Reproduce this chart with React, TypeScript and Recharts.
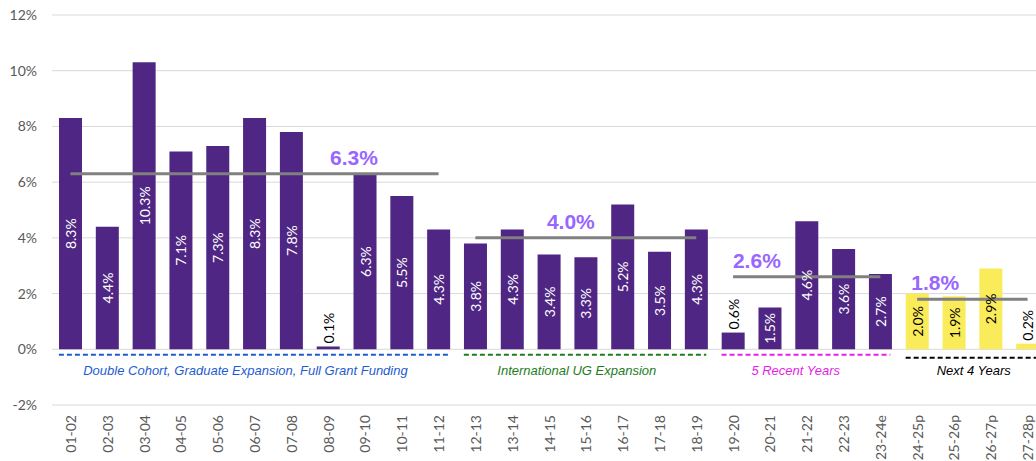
import React from "react"
import {
  Bar,
  CartesianGrid,
  Cell,
  ComposedChart,
  LabelList,
  ReferenceDot,
  ReferenceLine,
  XAxis,
  YAxis,
} from "recharts"

const periods = [
  "01-02", "02-03", "03-04", "04-05", "05-06", "06-07", "07-08", "08-09", "09-10",
  "10-11", "11-12", "12-13", "13-14", "14-15", "15-16", "16-17", "17-18", "18-19",
  "19-20", "20-21", "21-22", "22-23", "23-24e", "24-25p", "25-26p", "26-27p", "27-28p",
]

const growth = [
  8.3, 4.4, 10.3, 7.1, 7.3, 8.3, 7.8, 0.1, 6.3, 5.5, 4.3, 3.8, 4.3, 3.4, 3.3, 5.2, 3.5,
  4.3, 0.6, 1.5, 4.6, 3.6, 2.7, 2.0, 1.9, 2.9, 0.2,
]

// projected years start here
const firstProjected = 23

const yTicks = [-2, 0, 2, 4, 6, 8, 10, 12]

// period averages: value, first and last period
const averages = [
  { value: 6.3, from: "01-02", to: "11-12" },
  { value: 4.0, from: "12-13", to: "18-19" },
  { value: 2.6, from: "19-20", to: "23-24e" },
  { value: 1.8, from: "24-25p", to: "27-28p" },
]

const groups = [
  { name: "Double Cohort, Graduate Expansion, Full Grant Funding", from: "01-02", to: "11-12", color: "#1f5bd0" },
  { name: "International UG Expansion", from: "12-13", to: "18-19", color: "#1e7b1e" },
  { name: "5 Recent Years", from: "19-20", to: "23-24e", color: "#e61ee6" },
  { name: "Next 4 Years", from: "24-25p", to: "27-28p", color: "#000000" },
]

// where the annotation texts sit: anchor period + pixel nudge
const avgLabelPos = [
  { at: "09-10", dx: -11 },
  { at: "15-16", dx: -15 },
  { at: "20-21", dx: -13 },
  { at: "24-25p", dx: 18 },
]
const groupLabelPos = [
  { at: "06-07", dx: -9 },
  { at: "15-16", dx: -9 },
  { at: "21-22", dx: -11 },
  { at: "26-27p", dx: -17 },
]
const groupLineDy = [0, 0, 0, 3]

const rows = periods.map((period, i) => ({ period, value: growth[i] }))

const PURPLE = "#4f2683"
const YELLOW = "#faeb5a"
const FONT = "Lato, 'Noto Sans', sans-serif"
const ARIAL = "'Liberation Sans', Arial, sans-serif"

function BarLabel(props: any) {
  const { x, y, width, height, value, index } = props
  const cx = Number(x) + Number(width) / 2
  const txt = `${Number(value).toFixed(1)}%`
  if (value < 1) {
    const ty = Number(y) - 3
    return (
      <text x={cx} y={ty} transform={`rotate(-90 ${cx} ${ty})`} textAnchor="start"
        dominantBaseline="central" fill="#000" fontSize={14} fontFamily={FONT}>
        {txt}
      </text>
    )
  }
  const cy = Number(y) + Number(height) / 2
  return (
    <text x={cx} y={cy} transform={`rotate(-90 ${cx} ${cy})`} textAnchor="middle"
      dominantBaseline="central" fill={index >= firstProjected ? "#000" : "#fff"}
      fontSize={14} fontFamily={FONT}>
      {txt}
    </text>
  )
}

function XTick(props: any) {
  const { x, y, payload } = props
  return (
    <text x={x} y={y} transform={`rotate(-90 ${x} ${y})`} textAnchor="end"
      dominantBaseline="central" fill="#595959" fontSize={14} fontFamily={FONT}>
      {payload.value}
    </text>
  )
}

// dashed group underline, stretched from bar edge to bar edge
function DashedSpan(color: string, dy: number) {
  return (p: any) => (
    <line x1={p.x1 - 11.5} y1={p.y1 + dy} x2={p.x2 + 10} y2={p.y2 + dy} stroke={color}
      strokeWidth={2} strokeDasharray="5 3" />
  )
}

export default function App() {
  return (
    <div style={{ position: "absolute", left: 0, top: 0, width: 1036, height: 461, overflow: "hidden", background: "#fff" }}>
      <ComposedChart width={1046} height={461} data={rows} margin={{ top: 15, right: 0, bottom: 0, left: 0 }}>
        <CartesianGrid vertical={false} stroke="#d9d9d9" />
        <XAxis dataKey="period" interval={0} tick={<XTick />} tickLine={false} axisLine={false}
          tickSize={0} tickMargin={10} height={56} />
        <YAxis domain={[-2, 12]} ticks={yTicks} width={52} axisLine={false} tickLine={false}
          tickSize={0} tickMargin={15} tickFormatter={(v: number) => `${v}%`}
          tick={{ fill: "#595959", fontSize: 14, fontFamily: FONT }} />
        <Bar dataKey="value" barSize={23} isAnimationActive={false}>
          {rows.map((r, i) => (
            <Cell key={r.period} fill={i >= firstProjected ? YELLOW : PURPLE} />
          ))}
          <LabelList dataKey="value" content={BarLabel} />
        </Bar>
        {averages.map((a) => (
          <ReferenceLine key={`avg-${a.value}`} stroke="#808080" strokeWidth={3}
            segment={[{ x: a.from, y: a.value }, { x: a.to, y: a.value }]} />
        ))}
        {averages.map((a, i) => (
          <ReferenceDot key={`avgl-${a.value}`} x={avgLabelPos[i].at} y={a.value} r={0}
            shape={(p: any) => (
              <text x={p.cx + avgLabelPos[i].dx} y={p.cy - 9} textAnchor="middle" fill="#9966ff"
                fontSize={21} fontWeight="bold" fontFamily={ARIAL}>
                {`${a.value.toFixed(1)}%`}
              </text>
            )} />
        ))}
        {groups.map((g, i) => (
          <ReferenceLine key={`grp-${g.name}`} stroke={g.color}
            segment={[{ x: g.from, y: -0.2 }, { x: g.to, y: -0.2 }]}
            shape={DashedSpan(g.color, groupLineDy[i])} />
        ))}
        {groups.map((g, i) => (
          <ReferenceDot key={`grpl-${g.name}`} x={groupLabelPos[i].at} y={-0.75} r={0}
            shape={(p: any) => (
              <text x={p.cx + groupLabelPos[i].dx} y={p.cy} textAnchor="middle" dominantBaseline="central"
                fill={g.color} fontSize={13} fontStyle="italic" fontFamily={ARIAL}>
                {g.name}
              </text>
            )} />
        ))}
      </ComposedChart>
    </div>
  )
}
